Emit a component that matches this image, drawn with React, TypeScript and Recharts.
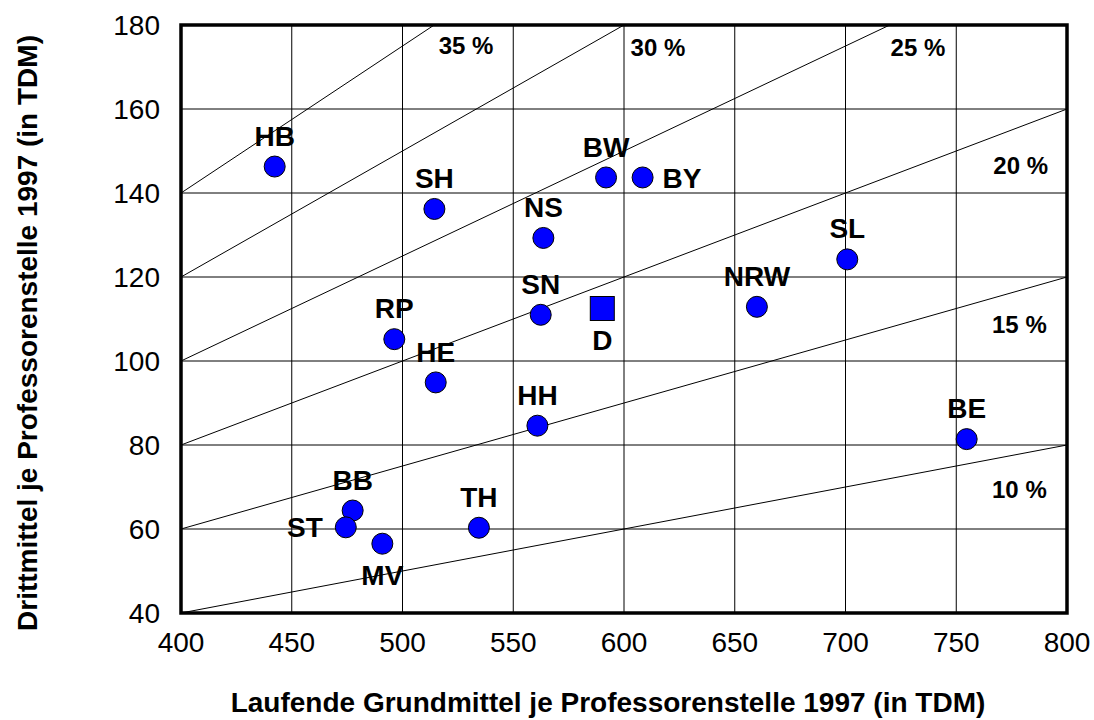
import { ScatterChart, Scatter, XAxis, YAxis, CartesianGrid, ReferenceLine, ReferenceArea } from 'recharts';

// Laender, Grundmittel (x) und Drittmittel (y) je Professorenstelle 1997, in TDM
const states = ['HB', 'SH', 'BW', 'BY', 'NS', 'SL', 'NRW', 'SN', 'RP', 'HE', 'HH', 'BE', 'BB', 'ST', 'MV', 'TH'];
const grundmittel = [442.3, 514.4, 591.9, 608.4, 563.6, 700.8, 660.0, 562.4, 496.3, 515.0, 560.9, 754.7, 477.5, 474.4, 490.9, 534.5];
const drittmittel = [146.3, 136.2, 143.7, 143.7, 129.3, 124.2, 112.9, 111.0, 105.2, 94.9, 84.6, 81.4, 64.4, 60.4, 56.5, 60.3];

// Bundesdurchschnitt
const germanyName = ['D'];
const germanyX = [590.2];
const germanyY = [112.5];

const xTicks = [400, 450, 500, 550, 600, 650, 700, 750, 800];
const yTicks = [40, 60, 80, 100, 120, 140, 160, 180];

// Drittmittelanteil-Linien (Start/Ende in Achsenwerten) und ihre Beschriftung
const shareLabels = ['35 %', '30 %', '25 %', '20 %', '15 %', '10 %'];
const shareFrom = [[400, 140], [400, 120], [400, 100], [400, 80], [400, 60], [400, 40]];
const shareTo = [[514.3, 180], [600, 180], [720, 180], [800, 160], [800, 120], [800, 80]];
const shareLabelAt = [[528.7, 175.1], [615.3, 174.7], [732.7, 174.7], [779.1, 146.7], [778.5, 108.8], [778.5, 69.5]];

const labelSide: Record<string, string> = { BY: 'right', ST: 'left', MV: 'bottom', D: 'bottom' };

const FONT = '"Liberation Sans", Arial, sans-serif';

const points = states.map((name, i) => ({ name, x: grundmittel[i], y: drittmittel[i] }));
const germany = germanyName.map((name, i) => ({ name, x: germanyX[i], y: germanyY[i] }));
const shareData = shareLabels.map((label, i) => ({ label, x: shareLabelAt[i][0], y: shareLabelAt[i][1] }));

function pointLabel(cx: number, cy: number, name: string) {
  const side = labelSide[name] || 'top';
  const fs = 28;
  let x = cx;
  let y = cy - 31;
  let anchor: 'middle' | 'start' | 'end' = 'middle';
  if (side === 'right') { x = cx + 20; y = cy; anchor = 'start'; }
  if (side === 'left') { x = cx - 23; y = cy; anchor = 'end'; }
  if (side === 'bottom') { y = cy + 31; }
  return (
    <text x={x} y={y + fs * 0.36} textAnchor={anchor} fontFamily={FONT} fontSize={fs} fontWeight="bold" fill="#000">
      {name}
    </text>
  );
}

const StateDot = (props: any) => {
  const { cx, cy, payload } = props;
  return (
    <g>
      <circle cx={cx} cy={cy} r={10.5} fill="#0000ff" stroke="#000" strokeWidth={1} />
      {pointLabel(cx, cy, payload.name)}
    </g>
  );
};

const GermanySquare = (props: any) => {
  const { cx, cy, payload } = props;
  return (
    <g>
      <rect x={cx - 12} y={cy - 12} width={24} height={24} fill="#0000ff" stroke="#000" strokeWidth={1} />
      {pointLabel(cx, cy, payload.name)}
    </g>
  );
};

const ShareText = (props: any) => {
  const { cx, cy, payload } = props;
  return (
    <text x={cx} y={cy + 24 * 0.36} textAnchor="middle" fontFamily={FONT} fontSize={24} fontWeight="bold" fill="#000">
      {payload.label}
    </text>
  );
};

export default function App() {
  const tickStyle = { fill: '#000', fontSize: 28, fontFamily: FONT };
  return (
    <div style={{ width: 1086, height: 712, padding: '8px 0 0 8px', overflow: 'hidden' }}>
      <style>{'html, body { margin: 0; overflow: hidden; }'}</style>
      <ScatterChart width={1086} height={712} margin={{ top: 17, right: 27, bottom: 77, left: 113 }}>
        <CartesianGrid stroke="#000" strokeWidth={1} />
        <XAxis
          type="number"
          dataKey="x"
          domain={[400, 800]}
          ticks={xTicks}
          interval={0}
          axisLine={false}
          tickLine={false}
          tickMargin={13}
          tick={tickStyle}
          height={30}
        />
        <YAxis
          type="number"
          dataKey="y"
          domain={[40, 180]}
          ticks={yTicks}
          interval={0}
          axisLine={false}
          tickLine={false}
          tickMargin={15}
          tick={tickStyle}
          width={60}
        />
        {shareFrom.map((p, i) => (
          <ReferenceLine
            key={shareLabels[i]}
            segment={[{ x: p[0], y: p[1] }, { x: shareTo[i][0], y: shareTo[i][1] }]}
            stroke="#000"
            strokeWidth={1}
          />
        ))}
        <ReferenceArea x1={400} x2={800} y1={40} y2={180} fill="none" stroke="#000" strokeWidth={3.5} />
        <Scatter data={shareData} shape={ShareText} isAnimationActive={false} />
        <Scatter data={points} shape={StateDot} isAnimationActive={false} />
        <Scatter data={germany} shape={GermanySquare} isAnimationActive={false} />
        <text x={600} y={704} textAnchor="middle" fontFamily={FONT} fontSize={28} fontWeight="bold" fill="#000">
          Laufende Grundmittel je Professorenstelle 1997 (in TDM)
        </text>
        <text
          x={29}
          y={325}
          transform="rotate(-90 29 325)"
          textAnchor="middle"
          fontFamily={FONT}
          fontSize={28}
          fontWeight="bold"
          fill="#000"
        >
          Drittmittel je Professorenstelle 1997 (in TDM)
        </text>
      </ScatterChart>
    </div>
  );
}
